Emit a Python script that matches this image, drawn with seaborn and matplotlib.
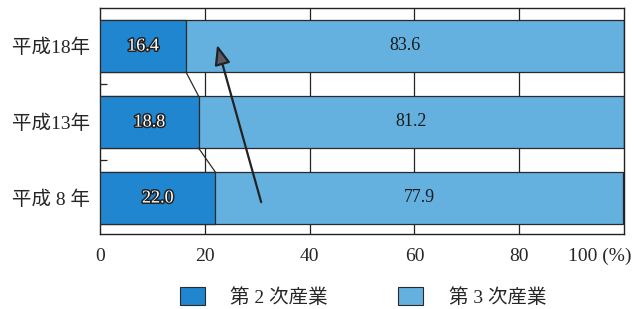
import matplotlib
matplotlib.use('Agg')
import matplotlib.pyplot as plt
import matplotlib.patheffects as pe
import matplotlib.transforms as mtransforms
import seaborn as sns
import pandas as pd
import numpy as np

# data
years = ['平成18年', '平成13年', '平成 8 年']
secondary = [16.4, 18.8, 22.0]   # 第2次産業
tertiary = [83.6, 81.2, 77.9]    # 第3次産業
x_ticks = [0, 20, 40, 60, 80, 100]
x_tick_labels = ['0', '20', '40', '60', '80', '100 (%)']
legend_labels = ['第 2 次産業', '第 3 次産業']

dark = '#1f86cf'
light = '#64b1e0'
bar_h = 0.684

sns.set_theme(style='white')
plt.rcParams['font.family'] = ['Liberation Serif', 'Noto Sans CJK JP', 'DejaVu Sans']

df = pd.DataFrame({'year': years, 'second': secondary, 'third': tertiary})
df['total'] = df['second'] + df['third']

fig = plt.figure(figsize=(6.34, 3.09), dpi=100)
ax = fig.add_axes([100 / 634, 75 / 309, 524 / 634, 226 / 309])

for x in x_ticks[1:-1]:
    ax.axvline(x, color='#222222', lw=0.9, zorder=0)

sns.barplot(data=df, y='year', x='total', order=years, color=light, saturation=1,
            edgecolor='#2a2a2a', linewidth=0.9, width=bar_h, ax=ax, zorder=2)
sns.barplot(data=df, y='year', x='second', order=years, color=dark, saturation=1,
            edgecolor='#2a2a2a', linewidth=0.9, width=bar_h, ax=ax, zorder=3)

# connector lines between the 第2次 segments
for i in range(len(years) - 1):
    ax.plot([secondary[i], secondary[i + 1]], [i + bar_h / 2, i + 1 - bar_h / 2],
            color='#2a2a2a', lw=0.9, zorder=3)

# value labels
for i in range(len(years)):
    ax.text(secondary[i] / 2, i, f'{secondary[i]:.1f}', ha='center', va='center',
            fontsize=13, color='white', zorder=5,
            path_effects=[pe.withStroke(linewidth=2.2, foreground='#222222')])
    ax.text(secondary[i] + tertiary[i] / 2, i, f'{tertiary[i]:.1f}', ha='center',
            va='center', fontsize=13, color='#1a1a1a', zorder=5)

# trend arrow
ax.annotate('', xy=(22.2, -0.05), xytext=(30.9, 2.09),
            arrowprops=dict(arrowstyle='-|>,head_length=1.0,head_width=0.4',
                            edgecolor='#222222', lw=1.6, facecolor='#5a5a66'),
            zorder=6)

ax.set_xlim(0, 100)
ax.set_ylim(len(years) - 1 + 0.474, -0.5)
ax.set_xlabel('')
ax.set_ylabel('')
ax.set_xticks(x_ticks)
ax.set_xticklabels(x_tick_labels, fontsize=14)
ax.tick_params(axis='x', length=0, pad=10)
lbls = ax.get_xticklabels()
lbls[-1].set_transform(lbls[-1].get_transform() +
                       mtransforms.ScaledTranslation(-24 / 100, 0, fig.dpi_scale_trans))
ax.set_yticks(range(len(years)))
ax.set_yticklabels(years, fontsize=14)
ax.tick_params(axis='y', length=0, pad=7)
ax.set_yticks([0.5, 1.5], minor=True)
ax.tick_params(axis='y', which='minor', direction='in', length=5, width=0.9, color='#222222', left=True)
for s in ax.spines.values():
    s.set_color('#222222')
    s.set_linewidth(1.0)

handles = [plt.Rectangle((0, 0), 1, 1, facecolor=dark, edgecolor='#2a2a2a', lw=0.8),
           plt.Rectangle((0, 0), 1, 1, facecolor=light, edgecolor='#2a2a2a', lw=0.8)]
fig.legend(handles, legend_labels, loc='center', bbox_to_anchor=(363 / 634, 0.04),
           ncol=2, frameon=False, fontsize=14, handlelength=1.3, handleheight=1.1,
           columnspacing=3.6, handletextpad=1.3)

fig.savefig('out.png', dpi=100)
